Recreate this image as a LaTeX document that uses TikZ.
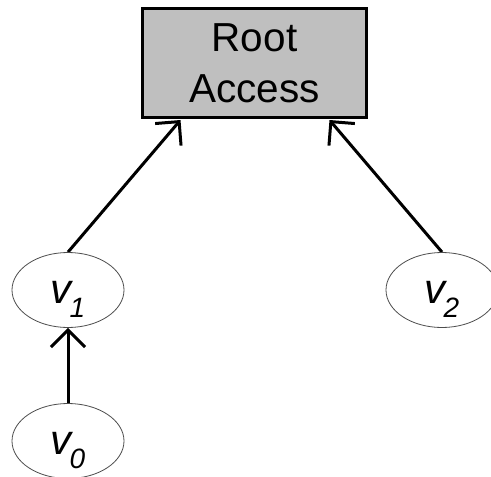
\documentclass[tikz,border=0pt]{standalone}
\usepackage{fontspec}
\setmainfont{Liberation Sans}
\usetikzlibrary{shapes.geometric,arrows.meta,backgrounds}
\tikzset{
  vertex/.style={ellipse,draw=black!70,line width=0.8pt,minimum width=112pt,
    minimum height=75pt,inner sep=0pt,text height=26pt,text depth=0pt},
  target/.style={draw,line width=3pt,fill=black!25,minimum width=224pt,
    minimum height=109pt,align=center,font=\fontsize{40.5}{51}\selectfont},
  link/.style={line width=3pt,-{Straight Barb[length=17pt,width=34pt]}}
}
\newcommand{\vlabel}[1]{{\fontsize{42}{42}\selectfont\itshape v\kern-2pt\raisebox{-14pt}{\fontsize{28}{28}\selectfont #1}}}

\begin{document}
\begin{tikzpicture}[x=1pt,y=-1pt]
\useasboundingbox (0,0) rectangle (491,477);

% Draw the target and the vertices
\node[target] (root) at (254.5,63) {Root\\Access};
\node[vertex] (v1) at (68,290)  {\vlabel{1}};
\node[vertex] (v2) at (442,290) {\vlabel{2}};
\node[vertex] (v0) at (68,441)  {\vlabel{0}};

\begin{pgfonlayer}{background}% tips partly under the box
  \draw[link] (v1.north) -- ([xshift=-74pt,yshift=-1pt]root.south);
  \draw[link] (v2.north) -- ([xshift=75pt,yshift=-1pt]root.south);
\end{pgfonlayer}

\draw[link] (v0.north) -- (v1.south);

\end{tikzpicture}
\end{document}
